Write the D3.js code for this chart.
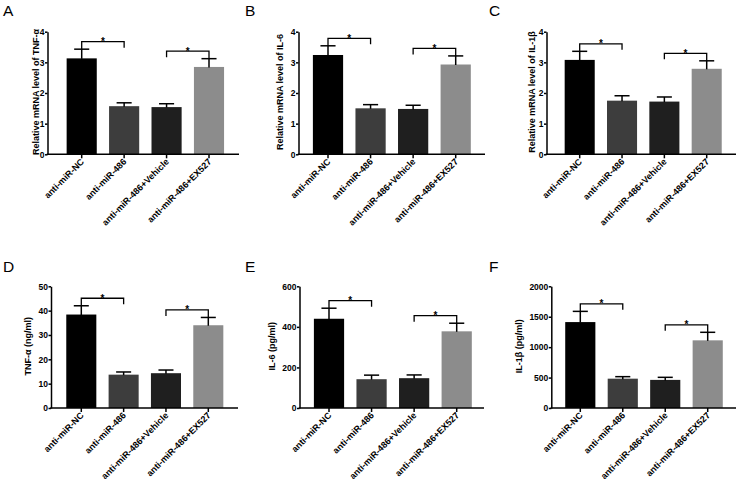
<!DOCTYPE html>
<html>
<head>
<meta charset="utf-8">
<script src="https://cdn.jsdelivr.net/npm/d3@7/dist/d3.min.js"></script>
<style>
  html, body { margin: 0; padding: 0; background: #fff; }
  svg { display: block; }
  text { font-family: Arial, "Liberation Sans", sans-serif; }
</style>
</head>
<body>
<svg id="chart" width="738" height="487"></svg>
<script>
// ---------- data ----------
const categories = ["anti-miR-NC", "anti-miR-486", "anti-miR-486+Vehicle", "anti-miR-486+EX527"];
const panelLetters = ["A", "B", "C", "D", "E", "F"];
const yLabels = [
  "Relative mRNA level of TNF-α",
  "Relative mRNA level of IL-6",
  "Relative mRNA level of IL-1β",
  "TNF-α (ng/ml)",
  "IL-6 (pg/ml)",
  "IL-1β (pg/ml)"
];
const tnfMrnaMean = [3.13, 1.57, 1.54, 2.85];
const tnfMrnaSem  = [0.30, 0.11, 0.11, 0.27];
const il6MrnaMean = [3.24, 1.50, 1.48, 2.93];
const il6MrnaSem  = [0.30, 0.12, 0.12, 0.28];
const il1bMrnaMean = [3.08, 1.75, 1.72, 2.79];
const il1bMrnaSem  = [0.28, 0.16, 0.15, 0.26];
const tnfProtMean = [38.4, 13.7, 14.3, 34.0];
const tnfProtSem  = [3.6, 1.1, 1.3, 3.2];
const il6ProtMean = [440, 142, 147, 378];
const il6ProtSem  = [52, 20, 16, 40];
const il1bProtMean = [1412, 482, 462, 1112];
const il1bProtSem  = [176, 33, 42, 132];
const ticksMrna = [0, 1, 2, 3, 4];
const ticksTnf  = [0, 10, 20, 30, 40, 50];
const ticksIl6  = [0, 200, 400, 600];
const ticksIl1b = [0, 500, 1000, 1500, 2000];
const comparisons = [[0, 1], [2, 3]];
const significance = "*";

const panelMeans = [tnfMrnaMean, il6MrnaMean, il1bMrnaMean, tnfProtMean, il6ProtMean, il1bProtMean];
const panelSems  = [tnfMrnaSem, il6MrnaSem, il1bMrnaSem, tnfProtSem, il6ProtSem, il1bProtSem];
const panelTicks = [ticksMrna, ticksMrna, ticksMrna, ticksTnf, ticksIl6, ticksIl1b];

// ---------- layout (positions/styles) ----------
const layout = [
  {ax: 47.5,  c0: 81.7,  c3: 209.0, end: 239, y0: 154.3, yTop: 31.7, labX: 35.8,  letX: 3,   letY: 16},
  {ax: 298.5, c0: 328.0, c3: 455.7, end: 485, y0: 154.3, yTop: 31.7, labX: 280.5, letX: 245, letY: 16},
  {ax: 546.5, c0: 579.7, c3: 706.7, end: 736, y0: 154.3, yTop: 31.7, labX: 532,   letX: 489, letY: 16},
  {ax: 51,    c0: 81.3,  c3: 208.3, end: 238, y0: 408,   yTop: 286.3, labX: 28.3, letX: 3,   letY: 272},
  {ax: 299.5, c0: 329.0, c3: 456.7, end: 484, y0: 408,   yTop: 286.3, labX: 272.3, letX: 245, letY: 272},
  {ax: 551.3, c0: 580.3, c3: 707.7, end: 736, y0: 408,   yTop: 286.3, labX: 519,  letX: 489, letY: 272}
];
const barColors = ["#000000", "#3d3d3d", "#1f1f1f", "#8c8c8c"];
const errColor = "#000";
const lw = 1.5;

const svg = d3.select("#chart");

panelLetters.forEach((letter, p) => {
  const L = layout[p];
  const means = panelMeans[p], sems = panelSems[p], ticks = panelTicks[p];
  const step = (L.c3 - L.c0) / (categories.length - 1);
  const x = d3.scaleBand()
    .domain(categories)
    .range([L.c0 - step / 2, L.c3 + step / 2])
    .paddingInner(0.29)
    .paddingOuter(0.145);
  const y = d3.scaleLinear()
    .domain([ticks[0], ticks[ticks.length - 1]])
    .range([L.y0, L.yTop]);
  const g = svg.append("g");

  // panel letter
  g.append("text")
    .attr("x", L.letX).attr("y", L.letY)
    .attr("font-size", 15.5)
    .attr("fill", "#000")
    .text(letter);

  // bars
  g.selectAll("rect.bar").data(categories).enter().append("rect")
    .attr("class", "bar")
    .attr("x", d => x(d))
    .attr("width", x.bandwidth())
    .attr("y", (d, i) => y(means[i]))
    .attr("height", (d, i) => y(0) - y(means[i]))
    .attr("fill", (d, i) => barColors[i]);

  // error bars (upper only)
  const cx = d => x(d) + x.bandwidth() / 2;
  const capHalf = x.bandwidth() / 4;
  categories.forEach((c, i) => {
    const top = y(means[i] + sems[i]);
    g.append("line")
      .attr("x1", cx(c)).attr("x2", cx(c))
      .attr("y1", y(means[i]) + 0.5).attr("y2", top)
      .attr("stroke", errColor).attr("stroke-width", lw);
    g.append("line")
      .attr("x1", cx(c) - capHalf).attr("x2", cx(c) + capHalf)
      .attr("y1", top).attr("y2", top)
      .attr("stroke", errColor).attr("stroke-width", lw);
  });

  // y axis
  const yAxis = d3.axisLeft(y).tickValues(ticks).tickFormat(d3.format("d"))
    .tickSize(2.5).tickSizeOuter(0).tickPadding(0.5);
  const yg = g.append("g").attr("transform", `translate(${L.ax},0)`).call(yAxis);
  yg.select(".domain").attr("stroke", "#000").attr("stroke-width", lw);
  yg.selectAll(".tick line").attr("stroke", "#000").attr("stroke-width", lw);
  yg.selectAll(".tick text")
    .attr("font-size", 8.5).attr("font-weight", "bold").attr("fill", "#000")
    .attr("font-family", "Arial, 'Liberation Sans', sans-serif");

  // x axis
  const xAxis = d3.axisBottom(x).tickSize(4).tickSizeOuter(0).tickFormat("");
  const xg = g.append("g").attr("transform", `translate(0,${L.y0})`).call(xAxis);
  xg.select(".domain").remove();
  xg.selectAll(".tick line").attr("stroke", "#000").attr("stroke-width", lw);
  g.append("line")
    .attr("x1", L.ax - lw / 2).attr("x2", L.end)
    .attr("y1", L.y0).attr("y2", L.y0)
    .attr("stroke", "#000").attr("stroke-width", lw);

  // x tick labels
  g.selectAll("text.xl").data(categories).enter().append("text")
    .attr("class", "xl")
    .attr("transform", d => `translate(${cx(d) + 3},${L.y0 + 8}) rotate(-45)`)
    .attr("text-anchor", "end")
    .attr("font-size", 9).attr("font-weight", "bold").attr("fill", "#000")
    .text(d => d);

  // y label
  g.append("text")
    .attr("transform", `translate(${L.labX + 2.8},${(L.y0 + L.yTop) / 2 - 1}) rotate(-90)`)
    .attr("text-anchor", "middle")
    .attr("font-size", 9).attr("font-weight", "bold").attr("fill", "#000")
    .text(yLabels[p]);

  // significance brackets
  comparisons.forEach(([a, b]) => {
    const ta = y(means[a] + sems[a]);
    const tb = y(means[b] + sems[b]);
    const by = Math.min(ta, tb) - 7.5;
    const xa = cx(categories[a]), xb = cx(categories[b]);
    const la = (ta <= tb) ? ta : by + 6;
    const lb = (tb < ta) ? tb : by + 6;
    g.append("path")
      .attr("d", `M${xa},${la}V${by}H${xb}V${lb}`)
      .attr("fill", "none").attr("stroke", "#000").attr("stroke-width", 1.3);
    g.append("text")
      .attr("x", (xa + xb) / 2).attr("y", by + 3.5)
      .attr("text-anchor", "middle")
      .attr("font-size", 10).attr("font-weight", "bold").attr("fill", "#000")
      .text(significance);
  });
});
</script>
</body>
</html>
